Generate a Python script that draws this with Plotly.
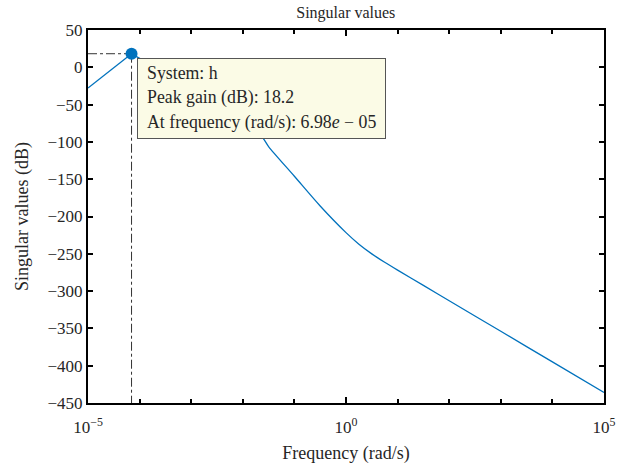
import math
import plotly.graph_objects as go

# Singular value response of system h
freq_rad_s = [1e-5, 6.98e-5, 1e-4, 3.16e-4, 1e-3, 3.16e-3, 1e-2, 2.45e-2, 3.16e-2,
              0.1, 0.316, 1.0, 1.78, 3.16, 5.62, 10.0, 31.6, 100.0, 1e3, 1e4, 1e5]
sv_db = [-27.7, 18.2, 12.0, -8.0, -28.0, -50.0, -72.0, -95.0, -106.3,
         -146.1, -185.9, -221.6, -237.1, -250.1, -261.4, -271.9, -292.4, -312.9,
         -353.9, -394.9, -435.9]

peak_freq = 6.98e-5
peak_db = 18.2
system_name = "h"

x_tick_vals = [1e-5, 1.0, 1e5]
x_tick_text = ["10<sup>−5</sup>", "10<sup>0</sup>", "10<sup>5</sup>"]
x_minor_vals = [10.0 ** k for k in range(-4, 5) if k != 0]
y_tick_vals = list(range(50, -451, -50))
y_tick_text = [str(v).replace("-", "−") for v in y_tick_vals]

x_min, x_max = 1e-5, 1e5
y_min, y_max = -450, 50

FONT = "Liberation Serif"
TXT = "#262626"
BLUE = "#0072BD"

fig = go.Figure()

# peak guide lines
fig.add_trace(go.Scatter(x=[x_min, peak_freq], y=[peak_db, peak_db], mode="lines",
                         line=dict(color="#333333", width=1, dash="dashdot"),
                         hoverinfo="skip", showlegend=False))
fig.add_trace(go.Scatter(x=[peak_freq, peak_freq], y=[peak_db, y_min], mode="lines",
                         line=dict(color="#333333", width=1, dash="dashdot"),
                         hoverinfo="skip", showlegend=False))

# rising part up to the peak stays straight, the rest is smoothed
n_peak = freq_rad_s.index(peak_freq)
fig.add_trace(go.Scatter(x=freq_rad_s[:n_peak + 1], y=sv_db[:n_peak + 1], mode="lines",
                         line=dict(color=BLUE, width=1.3), showlegend=False))
fig.add_trace(go.Scatter(x=freq_rad_s[n_peak:], y=sv_db[n_peak:], mode="lines",
                         line=dict(color=BLUE, width=1.3, shape="spline", smoothing=0.8),
                         showlegend=False))

fig.add_trace(go.Scatter(x=[peak_freq], y=[peak_db], mode="markers",
                         marker=dict(color=BLUE, size=12), showlegend=False))

# data tip box
px_log = math.log10(peak_freq)
fig.add_annotation(x=px_log, y=peak_db, xref="x", yref="y", text=" ",
                   showarrow=False, xanchor="left", yanchor="top",
                   xshift=5.5, yshift=-4.3, width=247, height=79,
                   bgcolor="#fbfbe6", bordercolor="#555555", borderwidth=1,
                   borderpad=0, font=dict(family=FONT, size=16, color=TXT))
tip_lines = [f"System: {system_name}",
             f"Peak gain (dB): {peak_db}",
             "At frequency (rad/s): 6.98<i>e</i> − 05"]
for i, line in enumerate(tip_lines):
    fig.add_annotation(x=px_log, y=peak_db, xref="x", yref="y", text=line,
                       showarrow=False, xanchor="left", yanchor="middle",
                       xshift=13.5, yshift=-19.3 - 24.5 * i,
                       font=dict(family=FONT, size=17.8, color=TXT))

fig.update_layout(
    width=631, height=466,
    margin=dict(l=88, r=27, t=30, b=63),
    paper_bgcolor="white", plot_bgcolor="white",
    font=dict(family=FONT, size=17, color=TXT),
    title=dict(text="Singular values", x=0.548, xanchor="center", y=0.974,
               yanchor="middle", font=dict(family=FONT, size=16, color=TXT)),
)

fig.update_xaxes(
    type="log", range=[math.log10(x_min), math.log10(x_max)],
    tickvals=x_tick_vals, ticktext=x_tick_text,
    ticks="inside", ticklen=6, tickwidth=1.5, tickcolor="black",
    minor=dict(tickvals=x_minor_vals, ticks="inside", ticklen=4,
               tickwidth=1.5, tickcolor="black", showgrid=False),
    showline=True, linecolor="black", linewidth=2, mirror="allticks",
    showgrid=False, zeroline=False, ticklabelstandoff=8, automargin=False,
    tickfont=dict(family=FONT, size=17, color=TXT),
    title=dict(text="Frequency (rad/s)", standoff=10,
               font=dict(family=FONT, size=18, color=TXT)),
)
fig.update_yaxes(
    range=[y_min, y_max], tickvals=y_tick_vals, ticktext=y_tick_text,
    ticks="inside", ticklen=5, tickwidth=1.5, tickcolor="black",
    showline=True, linecolor="black", linewidth=2, mirror="allticks",
    showgrid=False, zeroline=False, automargin=False,
    tickfont=dict(family=FONT, size=17, color=TXT),
    title=dict(text="Singular values (dB)", standoff=14,
               font=dict(family=FONT, size=18, color=TXT)),
)

fig.write_html("out.html")
